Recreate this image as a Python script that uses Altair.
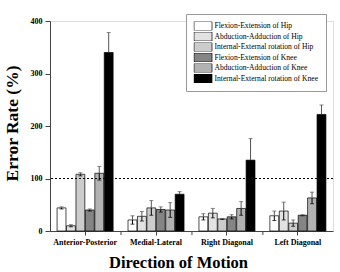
import altair as alt
import pandas as pd

# Direction of motion groups and joint-motion series
directions = ["Anterior-Posterior", "Medial-Lateral", "Right Diagonal", "Left Diagonal"]
series = [
    "Flexion-Extension of Hip",
    "Abduction-Adduction of Hip",
    "Internal-External rotation of Hip",
    "Flexion-Extension of Knee",
    "Abduction-Adduction of Knee",
    "Internal-External rotation of Knee",
]
fills = ["#ffffff", "#e2e2e2", "#cccccc", "#858585", "#b2b2b2", "#000000"]

# Mean error rate (%) per series, one value per direction
fe_hip = [44, 21, 27, 29]
aa_hip = [10, 28, 34, 38]
ie_hip = [108, 44, 23, 15]
fe_knee = [40, 41, 27, 30]
aa_knee = [110, 40, 43, 63]
ie_knee = [340, 70, 135, 222]

# Standard deviation per series
fe_hip_sd = [2, 8, 6, 9]
aa_hip_sd = [2, 9, 9, 17]
ie_hip_sd = [3, 14, 1, 6]
fe_knee_sd = [2, 5, 4, 1]
aa_knee_sd = [13, 14, 13, 11]
ie_knee_sd = [38, 5, 41, 18]

means = [fe_hip, aa_hip, ie_hip, fe_knee, aa_knee, ie_knee]
sds = [fe_hip_sd, aa_hip_sd, ie_hip_sd, fe_knee_sd, aa_knee_sd, ie_knee_sd]

rows = []
for name, m, s in zip(series, means, sds):
    for d, v, e in zip(directions, m, s):
        rows.append({"direction": d, "series": name, "rate": v, "sd": e})
df = pd.DataFrame(rows)

SERIF = "Liberation Serif"

x_enc = alt.X(
    "direction:N",
    sort=directions,
    scale=alt.Scale(paddingInner=0.21, paddingOuter=0.1),
    axis=alt.Axis(
        title="Direction of Motion",
        titleFont=SERIF, titleFontSize=16.5, titleFontWeight="bold", titleColor="black",
        titlePadding=8, titleX=128, titleAlign="center",
        labelFont=SERIF, labelFontSize=8, labelFontWeight="bold", labelColor="black",
        labelAngle=0, labelPadding=3,
        tickSize=4, tickColor="#444", domainColor="#444",
    ),
)
xoff = alt.XOffset("series:N", sort=series, scale=alt.Scale(domain=series, paddingInner=0.06))
y_scale = alt.Scale(domain=[0, 400], nice=False)

base = alt.Chart(df)

bars = base.mark_bar(stroke="black", strokeWidth=0.7).encode(
    x=x_enc,
    xOffset=xoff,
    y=alt.Y(
        "rate:Q",
        scale=y_scale,
        axis=alt.Axis(
            title="Error Rate (%)",
            titleFont=SERIF, titleFontSize=17.5, titleFontWeight="bold", titleColor="black",
            titlePadding=9, titleY=102, titleAlign="center",
            values=[0, 50, 100, 150, 200, 250, 300, 350, 400],
            labelExpr="datum.value % 100 === 0 ? datum.label : ''",
            labelFont=SERIF, labelFontSize=8, labelFontWeight="bold", labelColor="black",
            labelPadding=3,
            tickSize={"condition": {"test": "datum.value % 100 === 0", "value": 5}, "value": 3},
            tickColor="#444", domainColor="#444", grid=False,
        ),
    ),
    fill=alt.Fill(
        "series:N",
        sort=series,
        scale=alt.Scale(domain=series, range=fills),
        legend=alt.Legend(
            title=None, orient="none", legendX=136, legendY=-7,
            # wide 18x9 swatch whose left edge sits at the entry's left edge
            symbolType="M-1,-1H3V1H-1Z", symbolSize=81,
            symbolStrokeColor="black", symbolStrokeWidth=0.7, symbolOpacity=1,
            labelFont=SERIF, labelFontSize=7.6, labelColor="black", labelOffset=11,
            clipHeight=9, rowPadding=1.5, padding=7.5,
            strokeColor="#999", fillColor="white",
        ),
    ),
)

err_base = base.transform_calculate(
    hi="datum.rate + datum.sd", lo="datum.rate - datum.sd"
)

err_up = err_base.mark_rule(color="#555", strokeWidth=1).encode(
    x=alt.X("direction:N", sort=directions), xOffset=xoff,
    y=alt.Y("rate:Q", scale=y_scale), y2="hi:Q",
)
err_down = err_base.mark_rule(color="black", strokeWidth=1).encode(
    x=alt.X("direction:N", sort=directions), xOffset=xoff,
    y=alt.Y("lo:Q", scale=y_scale), y2="rate:Q",
)
cap_hi = err_base.mark_tick(color="#555", size=4, thickness=1, orient="horizontal").encode(
    x=alt.X("direction:N", sort=directions), xOffset=xoff,
    y=alt.Y("hi:Q", scale=y_scale),
)
cap_lo = err_base.mark_tick(color="black", size=4, thickness=1, orient="horizontal").encode(
    x=alt.X("direction:N", sort=directions), xOffset=xoff,
    y=alt.Y("lo:Q", scale=y_scale),
)

# Reference line at 100 %
ref = alt.Chart(pd.DataFrame({"ref": [100]})).mark_rule(
    color="black", strokeDash=[2, 2], strokeWidth=1
).encode(y=alt.Y("ref:Q", scale=y_scale))

# Ticks separating the direction groups
sep = alt.Chart(pd.DataFrame({"direction": directions[1:]})).mark_rule(
    color="#444", strokeWidth=1, xOffset=-7
).encode(
    x=alt.X("direction:N", sort=directions, bandPosition=0),
    y=alt.value(210), y2=alt.value(214),
)

chart = alt.layer(bars, err_down, err_up, cap_lo, cap_hi, ref, sep).properties(
    width=283, height=210,
    autosize=alt.AutoSizeParams(type="none"),
    padding={"left": 50, "top": 21, "right": 7, "bottom": 41},
).configure_view(stroke=None).configure(background="white")

chart.save("out.html", embed_options={"renderer": "svg", "actions": False})
